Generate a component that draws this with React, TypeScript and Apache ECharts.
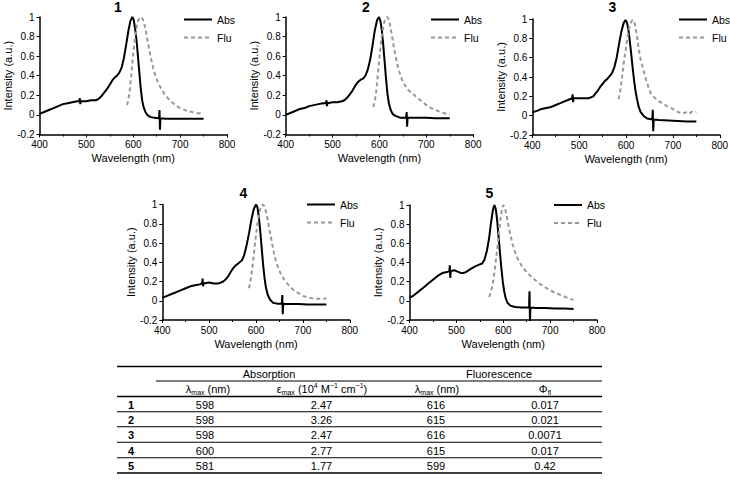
import React, { useEffect, useRef } from "react";
import * as echarts from "echarts";

const FONT = '"Liberation Sans", Arial, sans-serif';

// ---- data ----
const compounds = ["1", "2", "3", "4", "5"];
const seriesNames = ["Abs", "Flu"];
const xTicks = [400, 500, 600, 700, 800];
const yTicks = [-0.2, 0, 0.2, 0.4, 0.6, 0.8, 1];

const abs1 = [[400,0.01],[410,0.03],[420,0.05],[430,0.07],[440,0.09],[450,0.11],[460,0.12],[470,0.13],[480,0.14],[485,0.14],[486,0.17],[487,0.11],[488,0.14],[500,0.14],[510,0.15],[520,0.15],[525,0.16],[530,0.18],[535,0.21],[540,0.24],[545,0.27],[550,0.31],[555,0.35],[560,0.38],[565,0.4],[570,0.43],[575,0.48],[580,0.58],[585,0.72],[590,0.87],[594,0.96],[598,1.0],[601,0.97],[604,0.88],[607,0.76],[610,0.6],[613,0.43],[616,0.27],[619,0.15],[622,0.08],[626,0.03],[630,0.0],[636,-0.02],[645,-0.03],[655,-0.035],[656,0.05],[657,-0.15],[658,-0.035],[670,-0.04],[690,-0.04],[710,-0.04],[730,-0.04],[750,-0.04]];
const flu1 = [[587,0.1],[590,0.17],[593,0.27],[596,0.42],[599,0.58],[602,0.72],[605,0.83],[608,0.92],[611,0.97],[614,0.995],[617,1.0],[620,0.98],[623,0.94],[626,0.88],[629,0.8],[632,0.72],[636,0.62],[640,0.53],[644,0.45],[648,0.39],[652,0.34],[656,0.3],[662,0.25],[668,0.2],[674,0.17],[680,0.14],[690,0.1],[700,0.07],[710,0.05],[720,0.035],[730,0.025],[740,0.015],[745,0.02],[750,0.03]];

const abs2 = [[400,0.0],[410,0.02],[420,0.04],[430,0.06],[440,0.07],[450,0.09],[460,0.1],[470,0.11],[480,0.12],[486,0.12],[487,0.15],[488,0.09],[489,0.12],[500,0.13],[510,0.13],[520,0.14],[525,0.15],[530,0.17],[535,0.2],[540,0.23],[545,0.27],[550,0.31],[555,0.34],[560,0.36],[565,0.37],[570,0.4],[575,0.46],[580,0.56],[585,0.7],[590,0.86],[595,0.97],[599,1.0],[602,0.96],[605,0.87],[608,0.72],[611,0.55],[614,0.37],[617,0.22],[620,0.12],[624,0.05],[628,0.01],[634,-0.01],[645,-0.03],[657,-0.03],[658,0.03],[659,-0.12],[660,-0.03],[680,-0.03],[700,-0.03],[720,-0.035],[750,-0.035]];
const flu2 = [[587,0.08],[590,0.14],[593,0.24],[596,0.38],[599,0.54],[602,0.69],[605,0.81],[608,0.9],[611,0.96],[614,0.99],[617,1.0],[620,0.97],[623,0.91],[626,0.83],[629,0.74],[632,0.66],[636,0.56],[640,0.48],[645,0.4],[650,0.34],[655,0.3],[660,0.26],[670,0.22],[680,0.18],[690,0.14],[700,0.1],[710,0.07],[720,0.05],[730,0.03],[740,0.015],[750,0.01]];

const abs3 = [[400,0.035],[410,0.05],[420,0.07],[430,0.08],[440,0.09],[450,0.11],[460,0.13],[470,0.15],[480,0.17],[485,0.18],[486,0.22],[487,0.14],[488,0.18],[500,0.18],[510,0.18],[520,0.18],[525,0.19],[530,0.2],[535,0.23],[540,0.26],[545,0.3],[550,0.33],[555,0.36],[560,0.38],[565,0.41],[570,0.44],[575,0.5],[580,0.6],[585,0.74],[590,0.87],[595,0.96],[599,0.99],[602,0.96],[605,0.89],[608,0.77],[611,0.64],[614,0.5],[617,0.37],[620,0.26],[623,0.18],[627,0.09],[631,0.04],[637,0.0],[645,-0.03],[656,-0.04],[657,0.06],[658,-0.16],[659,-0.04],[670,-0.045],[690,-0.05],[710,-0.055],[730,-0.06],[750,-0.06]];
const flu3 = [[584,0.17],[587,0.24],[590,0.34],[593,0.46],[596,0.58],[599,0.67],[602,0.78],[605,0.87],[608,0.93],[611,0.97],[614,0.99],[617,0.98],[620,0.92],[623,0.83],[626,0.73],[629,0.63],[632,0.56],[636,0.49],[640,0.42],[644,0.35],[648,0.29],[652,0.24],[656,0.21],[660,0.19],[665,0.17],[670,0.15],[680,0.12],[690,0.09],[700,0.07],[705,0.05],[710,0.04],[715,0.03],[720,0.02],[725,0.03],[730,0.035],[735,0.02],[740,0.04],[745,0.03],[750,0.04]];

const abs4 = [[400,0.03],[410,0.05],[420,0.07],[430,0.09],[440,0.11],[450,0.13],[460,0.15],[470,0.16],[480,0.17],[485,0.18],[486,0.23],[487,0.15],[488,0.18],[500,0.19],[510,0.18],[520,0.18],[525,0.19],[530,0.2],[535,0.22],[540,0.25],[545,0.29],[550,0.33],[555,0.36],[560,0.38],[565,0.4],[570,0.42],[575,0.48],[580,0.58],[585,0.7],[590,0.84],[595,0.95],[600,1.0],[603,0.97],[606,0.87],[609,0.72],[612,0.55],[615,0.38],[618,0.24],[621,0.14],[625,0.06],[630,0.01],[636,-0.02],[645,-0.03],[655,-0.03],[656,0.06],[657,-0.14],[658,-0.03],[670,-0.035],[690,-0.035],[710,-0.04],[730,-0.04],[750,-0.04]];
const flu4 = [[585,0.13],[588,0.2],[591,0.3],[594,0.42],[597,0.56],[600,0.69],[603,0.8],[606,0.89],[609,0.95],[612,0.99],[615,1.0],[618,0.98],[621,0.93],[624,0.86],[627,0.78],[630,0.7],[634,0.6],[638,0.5],[642,0.42],[646,0.36],[650,0.31],[655,0.26],[660,0.22],[670,0.16],[680,0.11],[690,0.08],[700,0.05],[710,0.035],[720,0.025],[730,0.02],[740,0.02],[750,0.025]];

const abs5 = [[400,0.03],[410,0.06],[420,0.1],[430,0.14],[440,0.18],[450,0.22],[460,0.26],[470,0.29],[480,0.3],[485,0.31],[486,0.37],[487,0.24],[488,0.31],[495,0.32],[500,0.31],[505,0.3],[510,0.29],[515,0.29],[520,0.3],[530,0.33],[540,0.36],[545,0.37],[550,0.38],[555,0.39],[560,0.43],[565,0.52],[570,0.66],[574,0.82],[578,0.95],[581,1.0],[584,0.96],[587,0.84],[590,0.67],[593,0.5],[596,0.34],[599,0.2],[602,0.1],[605,0.03],[609,-0.02],[615,-0.05],[625,-0.065],[640,-0.07],[655,-0.07],[656,0.1],[657,-0.21],[658,-0.07],[670,-0.075],[690,-0.075],[710,-0.08],[730,-0.08],[750,-0.085]];
const flu5 = [[570,0.04],[573,0.08],[576,0.14],[579,0.22],[582,0.33],[585,0.45],[588,0.58],[591,0.72],[594,0.85],[597,0.95],[600,1.0],[603,0.98],[606,0.92],[609,0.84],[612,0.76],[616,0.67],[620,0.59],[625,0.51],[630,0.45],[635,0.4],[640,0.36],[650,0.3],[660,0.25],[670,0.21],[680,0.17],[690,0.14],[700,0.11],[710,0.085],[720,0.065],[730,0.045],[740,0.025],[750,0.01]];

const absData = [abs1, abs2, abs3, abs4, abs5];
const fluData = [flu1, flu2, flu3, flu4, flu5];

// table
const tableRows = ["1", "2", "3", "4", "5"];
const absLambdaMax = ["598", "598", "598", "600", "581"];
const absEpsilon = ["2.47", "3.26", "2.47", "2.77", "1.77"];
const fluLambdaMax = ["616", "615", "616", "615", "599"];
const fluPhi = ["0.017", "0.021", "0.0071", "0.017", "0.42"];

// ---- layout ----
const grids = [
  { left: 39.5, top: 17, width: 187.5, height: 117.5 },
  { left: 285.7, top: 17, width: 187.5, height: 117.5 },
  { left: 532.3, top: 19, width: 187.5, height: 116 },
  { left: 162.3, top: 204.5, width: 187.5, height: 115.5 },
  { left: 409.5, top: 205, width: 187.5, height: 115 },
];
const titlePos = [[118, 7], [366, 7], [612.5, 7], [243.5, 193], [489.5, 193]];
const legendPos = [[183, 14], [430, 14], [678, 14], [306, 199], [553, 199.5]];

function buildOption() {
  const grid = grids.map((g) => ({ ...g, containLabel: false, outerBoundsMode: "none" }));
  const xAxis = grids.map((_, i) => ({
    type: "value",
    gridIndex: i,
    min: xTicks[0],
    max: xTicks[xTicks.length - 1],
    interval: xTicks[1] - xTicks[0],
    axisLine: { show: true, onZero: false, lineStyle: { color: "#000", width: 1.5 } },
    axisTick: { show: true, length: 3, lineStyle: { color: "#000", width: 1 } },
    minorTick: { show: true, splitNumber: 2, length: 2, lineStyle: { color: "#000", width: 1 } },
    splitLine: { show: false },
    axisLabel: { fontSize: 10, color: "#000", fontFamily: FONT, margin: 5 },
    name: "Wavelength (nm)",
    nameLocation: "middle",
    nameGap: 18,
    nameTextStyle: { fontSize: 11, color: "#000", fontFamily: FONT },
  }));
  const yAxis = grids.map((_, i) => ({
    type: "value",
    gridIndex: i,
    min: yTicks[0],
    max: yTicks[yTicks.length - 1],
    interval: 0.2,
    axisLine: { show: true, onZero: false, lineStyle: { color: "#000", width: 1.5 } },
    axisTick: { show: true, length: 3, lineStyle: { color: "#000", width: 1 } },
    splitLine: { show: false },
    axisLabel: { fontSize: 10, color: "#000", fontFamily: FONT, margin: 5 },
    name: "Intensity (a.u.)",
    nameLocation: "middle",
    nameGap: 25,
    nameTextStyle: { fontSize: 11, color: "#000", fontFamily: FONT },
  }));
  const series: any[] = [];
  grids.forEach((_, i) => {
    series.push({
      type: "line",
      name: seriesNames[0],
      xAxisIndex: i,
      yAxisIndex: i,
      data: absData[i],
      symbol: "none",
      lineStyle: { color: "#000", width: 2 },
      itemStyle: { color: "#000" },
    });
    series.push({
      type: "line",
      name: seriesNames[1],
      xAxisIndex: i,
      yAxisIndex: i,
      data: fluData[i],
      symbol: "none",
      lineStyle: { color: "#999", width: 2, type: [4, 3] },
      itemStyle: { color: "#999" },
    });
  });
  const legend = legendPos.map(([l, t]) => ({
    left: l,
    top: t,
    orient: "vertical",
    padding: 0,
    itemWidth: 28,
    itemHeight: 10,
    itemGap: 7,
    selectedMode: false,
    itemStyle: { opacity: 0 },
    data: seriesNames.map((n) => ({ name: n })),
    textStyle: { fontSize: 10.5, color: "#000", fontFamily: FONT },
  }));

  const graphic: any[] = [];
  compounds.forEach((c, i) => {
    graphic.push({
      type: "text",
      x: titlePos[i][0],
      y: titlePos[i][1],
      style: { text: c, fill: "#000", fontSize: 14, fontWeight: "bold", fontFamily: FONT, align: "center", verticalAlign: "middle" },
    });
  });

  // table
  const tL = 117, tR = 602;
  const hline = (y: number, x1: number, x2: number, w: number) => ({
    type: "line",
    shape: { x1, y1: y, x2, y2: y },
    style: { stroke: "#000", lineWidth: w },
  });
  const txt = (text: string, x: number, y: number, bold = false, rich?: any) => ({
    type: "text",
    x,
    y,
    style: {
      text,
      fill: "#000",
      fontSize: 11,
      fontWeight: bold ? "bold" : "normal",
      fontFamily: FONT,
      align: "center",
      verticalAlign: "middle",
      rich,
    },
  });
  const rich = {
    n: { fontSize: 11, fontFamily: FONT, fill: "#000", lineHeight: 14 },
    s: { fontSize: 7, fontFamily: FONT, fill: "#000", lineHeight: 6, verticalAlign: "bottom" },
    p: { fontSize: 7, fontFamily: FONT, fill: "#000", lineHeight: 6, verticalAlign: "top" },
  };
  graphic.push(hline(366.5, tL, tR, 1.5));
  graphic.push(txt("Absorption", 269, 373.5));
  graphic.push(txt("Fluorescence", 499, 373.5));
  graphic.push(hline(381, 156, tR, 1));
  const colX = [208, 322, 437, 545];
  graphic.push(txt("{n|λ}{s|max}{n| (nm)}", colX[0], 389, false, rich));
  graphic.push(txt("{n|ε}{s|max}{n| (10}{p|4}{n| M}{p|−1}{n| cm}{p|−1}{n|)}", colX[1], 389, false, rich));
  graphic.push(txt("{n|λ}{s|max}{n| (nm)}", colX[2], 389, false, rich));
  graphic.push(txt("{n|Φ}{s|fl}", colX[3], 389, false, rich));
  graphic.push(hline(396.5, tL, tR, 1.3));
  const rowY = [404.5, 419.5, 435, 450.5, 465.5];
  const sepY = [411.7, 426.8, 442.3, 457.7, 473];
  tableRows.forEach((r, i) => {
    graphic.push(txt(r, 131, rowY[i], true));
    graphic.push(txt(absLambdaMax[i], 205, rowY[i]));
    graphic.push(txt(absEpsilon[i], 321.5, rowY[i]));
    graphic.push(txt(fluLambdaMax[i], 436, rowY[i]));
    graphic.push(txt(fluPhi[i], 545, rowY[i]));
    graphic.push(hline(sepY[i], tL, tR, i === tableRows.length - 1 ? 1.5 : 1.1));
  });

  return {
    animation: false,
    backgroundColor: "#fff",
    textStyle: { fontFamily: FONT },
    grid,
    xAxis,
    yAxis,
    series,
    legend,
    graphic,
  };
}

export default function App() {
  const ref = useRef<HTMLDivElement>(null);
  useEffect(() => {
    if (!ref.current) return;
    const chart = echarts.init(ref.current, null, { renderer: "svg" });
    chart.setOption(buildOption() as any);
    return () => chart.dispose();
  }, []);
  return (
    <div
      ref={ref}
      style={{ position: "absolute", left: 0, top: 0, width: 730, height: 480, background: "#fff" }}
    />
  );
}
